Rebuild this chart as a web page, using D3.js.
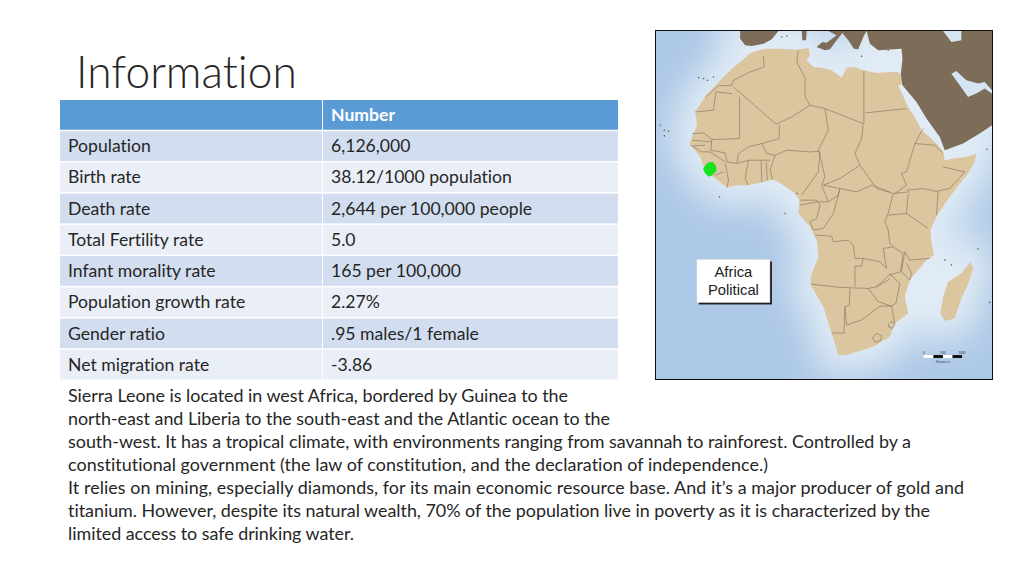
<!DOCTYPE html>
<html>
<head>
<meta charset="utf-8">
<script src="https://cdnjs.cloudflare.com/ajax/libs/d3/7.8.5/d3.min.js"></script>
<style>
  html, body { margin: 0; padding: 0; background: #fff; }
  svg { display: block; font-family: Lato, "Noto Sans", sans-serif; font-variant-ligatures: none; }
</style>
</head>
<body>
<div id="slide"></div>
<script>
// Table content
const rowLabels = ["Population", "Birth rate", "Death rate", "Total Fertility rate", "Infant morality rate",
                   "Population growth rate", "Gender ratio", "Net migration rate"];
const rowValues = ["6,126,000", "38.12/1000 population", "2,644 per 100,000 people", "5.0", "165 per 100,000",
                   "2.27%", ".95 males/1 female", "-3.86"];
const headerCells = ["", "Number"];

const paragraphLines = [
  "Sierra Leone is located in west Africa, bordered by Guinea to the",
  "north-east and Liberia to the south-east and the Atlantic ocean to the",
  "south-west. It has a tropical climate, with environments ranging from savannah to rainforest. Controlled by a",
  "constitutional government (the law of constitution, and the declaration of independence.)",
  "It relies on mining, especially diamonds, for its main economic resource base. And it\u2019s a major producer of gold and",
  "titanium. However, despite its natural wealth, 70% of the population live in poverty as it is characterized by the",
  "limited access to safe drinking water."
];
const paragraphWidths = [500, 542, 843, 700, 896, 862, 286];   // measured line widths, Calibri is not installed

// Map shapes, in map units (frame runs 17..1027 across, 17..1062 down)
const africa = [[300,84],[320,76],[345,70],[395,70],[440,73],[475,68],[480,90],[470,105],[490,125],[520,128],[545,135],[575,157],[590,127],[615,125],[640,135],[680,143],[725,140],[745,140],[755,155],[755,178],[745,180],[775,245],[800,285],[815,315],[845,340],[880,378],[885,405],[910,400],[950,395],[980,385],[975,410],[955,445],[935,470],[900,515],[862,570],[842,615],[845,650],[852,690],[830,705],[805,735],[780,765],[765,815],[775,865],[735,895],[720,935],[670,965],[590,990],[565,990],[545,925],[520,845],[482,780],[482,755],[505,695],[500,645],[480,605],[445,565],[448,525],[435,505],[400,480],[370,462],[335,472],[290,480],[262,480],[230,487],[195,460],[165,435],[150,395],[118,355],[130,325],[140,300],[135,258],[165,215],[200,175],[245,130],[270,110]];
const madagascar = [[962,710],[970,730],[958,770],[935,820],[915,880],[885,888],[872,865],[880,815],[895,770],[935,745]];
const lesotho = [[668,937],[680,925],[695,932],[692,946],[675,952]];
const swaziland = [[716,898],[726,888],[735,898],[727,910],[717,906]];
const sierraLeone = [[160,430],[172,414],[188,411],[197,425],[197,438],[185,450],[175,453],[165,443]];

const borders = [
  [[340,92],[342,125],[300,140],[250,165],[245,180]],
  [[245,180],[205,182],[165,215]],
  [[245,205],[197,200],[190,255],[135,260]],
  [[250,185],[378,297]],
  [[268,215],[268,340],[185,343],[160,323],[125,325]],
  [[445,75],[440,110],[465,158],[465,215],[480,240],[525,250]],
  [[378,297],[425,275],[480,240]],
  [[388,300],[387,340],[335,355]],
  [[525,250],[535,315],[505,375],[512,400]],
  [[375,390],[410,375],[480,380],[510,378]],
  [[642,135],[642,295]],
  [[645,263],[770,250]],
  [[525,250],[640,295]],
  [[640,295],[635,340],[615,385],[630,420],[680,490]],
  [[820,310],[795,355],[770,440],[755,445],[770,480],[735,505]],
  [[680,490],[730,505],[780,500]],
  [[795,355],[855,360],[880,385]],
  [[880,425],[945,440],[900,490],[865,497]],
  [[770,495],[820,490],[865,500],[860,570]],
  [[775,507],[770,565],[835,610]],
  [[730,505],[715,565],[705,590],[715,615],[720,655],[730,665]],
  [[715,570],[770,565]],
  [[520,480],[570,460],[630,420]],
  [[510,380],[505,440],[455,510]],
  [[368,465],[360,435],[375,390]],
  [[512,400],[525,455],[515,480],[535,530]],
  [[450,525],[500,525],[510,540],[500,580],[480,590]],
  [[450,540],[500,530],[535,530],[565,510],[570,490],[620,500],[665,480],[720,500]],
  [[520,480],[570,490]],
  [[570,490],[550,565],[520,610],[490,615],[480,590]],
  [[495,630],[545,633],[550,650],[595,645],[610,660],[615,700],[640,700],[635,723],[615,723],[615,785]],
  [[640,700],[690,710],[710,730],[700,670],[730,665],[760,685],[752,740],[718,750],[680,785]],
  [[765,680],[780,705],[840,700]],
  [[765,680],[755,740],[780,765],[785,745],[770,715]],
  [[718,745],[750,775],[738,835],[725,843]],
  [[655,790],[685,830],[725,843]],
  [[655,790],[680,785],[720,762]],
  [[482,777],[570,787],[655,790]],
  [[600,790],[598,840],[585,845],[582,925],[545,923]],
  [[585,845],[590,900],[635,885],[690,843],[725,843]],
  [[725,843],[735,895]],
  [[185,343],[182,375],[225,383],[230,410],[260,415],[265,385],[295,365],[335,355],[350,385],[375,390]],
  [[120,360],[155,380],[180,380],[225,410]],
  [[125,345],[185,350]],
  [[128,362],[165,360]],
  [[195,450],[220,440]],
  [[225,415],[235,465],[230,487]],
  [[260,415],[295,405],[360,405]],
  [[295,405],[285,460],[295,480]],
  [[333,405],[335,470]],
  [[348,410],[352,465]]
];

const iberia = [[270,17],[385,17],[365,42],[340,55],[305,62],[285,60],[270,40]];
const italy = [[517,50],[530,52],[560,30],[535,17],[582,17],[560,45],[540,72],[525,75],[500,65]];
const balkans = [[572,17],[650,17],[640,35],[625,72],[612,70],[595,45]];
const corsica = [[455,17],[470,17],[468,45],[457,45]];
const middleEast = [[650,17],[1027,17],[1027,300],[990,325],[940,355],[885,375],[870,335],[830,280],[800,230],[758,180],[752,155],[758,100],[755,70],[710,73],[685,75],[660,55]];
const persianGulf = [[905,145],[920,137],[950,165],[985,175],[1005,170],[1027,195],[1027,205],[1005,190],[980,205],[955,215],[930,180]];
const caspian = [[880,17],[935,17],[935,45],[905,50]];
const islands = [[145,157],[160,160],[172,165],[190,155],[30,300],[42,315],[55,318],[42,332],[208,515],[405,565],[440,505],[985,672],[885,705],[905,720],[1020,832],[1012,372],[715,75],[635,93],[395,35],[410,32]];

const scaleBarTicks = [0, 500, 1000];
const labelLines = ["Africa", "Political"];

// Slide size
const width = 1024, height = 576;
const svg = d3.select("#slide").append("svg").attr("width", width).attr("height", height);

svg.append("rect").attr("width", width).attr("height", height).attr("fill", "#fff");

// Title
svg.append("text").attr("x", 76).attr("y", 88)
   .attr("font-size", 44.3).attr("font-weight", 300).attr("fill", "#262626")
   .text("Information");

// --- Table ---
const tableX = d3.scaleOrdinal().domain(["label", "value"]).range([60, 323]);
const colW = { label: 263, value: 295 };
const rowY = d3.scaleBand()
               .domain(d3.range(rowLabels.length + 1))
               .range([99, 380]);

const tableRows = [headerCells].concat(rowLabels.map((d, i) => [d, rowValues[i]]));
const rowG = svg.selectAll("g.row").data(tableRows).enter().append("g")
                .attr("transform", (d, i) => "translate(0," + rowY(i) + ")");

rowG.each(function(d, i) {
  const g = d3.select(this);
  const fill = i === 0 ? "#5b9bd5" : (i % 2 ? "#d2deef" : "#eaeff7");
  ["label", "value"].forEach((k, j) => {
    g.append("rect").attr("x", tableX(k)).attr("y", 1)
     .attr("width", colW[k] - (j ? 0 : 1)).attr("height", rowY.bandwidth() - 1.5)
     .attr("fill", fill);
    g.append("text").attr("x", tableX(k) + 8).attr("y", 22)
     .attr("font-size", 17.6)
     .attr("font-weight", i === 0 ? 700 : 400)
     .attr("fill", i === 0 ? "#fff" : "#262626")
     .text(d[j]);
  });
});

// --- Paragraph ---
svg.selectAll("text.para").data(paragraphLines).enter().append("text")
   .attr("class", "para")
   .attr("x", 68)
   .attr("y", (d, i) => 401.5 + i * 23)
   .attr("font-size", 17.9)
   .attr("textLength", (d, i) => paragraphWidths[i])
   .attr("fill", "#262626")
   .text(d => d);

// --- Map ---
const mx = d3.scaleLinear().domain([17, 1027]).range([656, 992]);
const my = d3.scaleLinear().domain([17, 1062]).range([31, 379]);
const line = d3.line().x(d => mx(d[0])).y(d => my(d[1]));
const loop = pts => line(pts) + "Z";

const defs = svg.append("defs");
defs.append("clipPath").attr("id", "mapClip").append("rect")
    .attr("x", 656).attr("y", 31).attr("width", 336).attr("height", 348);
defs.append("filter").attr("id", "glow").attr("x", "-30%").attr("y", "-30%").attr("width", "160%").attr("height", "160%")
    .append("feGaussianBlur").attr("stdDeviation", 17);
defs.append("filter").attr("id", "soft").append("feGaussianBlur").attr("stdDeviation", 0.35);

const map = svg.append("g").attr("clip-path", "url(#mapClip)");
map.append("rect").attr("x", 656).attr("y", 31).attr("width", 336).attr("height", 348).attr("fill", "#adc8e6");

// pale shallow water hugging the coasts
const glow = map.append("g").attr("filter", "url(#glow)").attr("fill", "#e0ebf5").attr("stroke", "#e0ebf5").attr("stroke-width", 40);
[africa, madagascar, iberia, middleEast].forEach(p => glow.append("path").attr("d", loop(p)));

const art = map.append("g").attr("filter", "url(#soft)");
[iberia, italy, balkans, corsica, middleEast].forEach(p =>
  art.append("path").attr("d", loop(p)).attr("fill", "#7b6c58"));
[persianGulf, caspian].forEach(p =>
  art.append("path").attr("d", loop(p)).attr("fill", "#d6e5f3"));

art.append("path").attr("d", loop(africa)).attr("fill", "#dcc6a0");
art.append("path").attr("d", loop(madagascar)).attr("fill", "#dcc6a0");

art.selectAll("path.border").data(borders).enter().append("path")
   .attr("class", "border")
   .attr("d", d => line(d))
   .attr("fill", "none").attr("stroke", "#7a705c").attr("stroke-width", 0.6);

[lesotho, swaziland].forEach(p =>
  art.append("path").attr("d", loop(p)).attr("fill", "#dcc6a0").attr("stroke", "#7a705c").attr("stroke-width", 0.6));

art.append("path").attr("d", loop(sierraLeone)).attr("fill", "#12e31b").attr("stroke", "#12e31b").attr("stroke-width", 0.8);

art.selectAll("circle.isle").data(islands).enter().append("circle")
   .attr("class", "isle").attr("cx", d => mx(d[0])).attr("cy", d => my(d[1])).attr("r", 0.8).attr("fill", "#5f6468");

// Map label box
const boxX = mx(140), boxY = my(703), boxW = 73, boxH = 43;
map.append("rect").attr("x", boxX + 2).attr("y", boxY + 2).attr("width", boxW).attr("height", boxH).attr("fill", "#1c1c1c");
map.append("rect").attr("x", boxX).attr("y", boxY).attr("width", boxW).attr("height", boxH)
   .attr("fill", "#fff").attr("stroke", "#ddd").attr("stroke-width", 0.5);
map.selectAll("text.maplabel").data(labelLines).enter().append("text")
   .attr("class", "maplabel")
   .attr("x", boxX + boxW / 2).attr("y", (d, i) => boxY + 18 + i * 18)
   .attr("text-anchor", "middle")
   .attr("font-family", "'Liberation Sans', sans-serif").attr("font-size", 14.8)
   .attr("fill", "#222").text(d => d);

// Scale bar
const bar = d3.scaleLinear().domain([0, 1000]).range([mx(822), mx(937)]);
const barSegs = d3.range(0, 1000, 250);
map.selectAll("rect.seg").data(barSegs).enter().append("rect")
   .attr("class", "seg")
   .attr("x", d => bar(d)).attr("y", my(990)).attr("width", bar(250) - bar(0)).attr("height", 3)
   .attr("fill", (d, i) => i % 2 ? "#111" : "#fff");
map.selectAll("text.bar").data(scaleBarTicks).enter().append("text")
   .attr("class", "bar")
   .attr("x", d => bar(d)).attr("y", my(987))
   .attr("text-anchor", "middle").attr("font-size", 3).attr("fill", "#333").text(d => d);
map.append("text").attr("x", bar(500)).attr("y", my(1014)).attr("text-anchor", "middle")
   .attr("font-size", 3).attr("fill", "#445").text("Kilometers");

// Map frame
svg.append("rect").attr("x", 655.5).attr("y", 30.5).attr("width", 337).attr("height", 349)
   .attr("fill", "none").attr("stroke", "#111").attr("stroke-width", 1);
</script>
</body>
</html>
